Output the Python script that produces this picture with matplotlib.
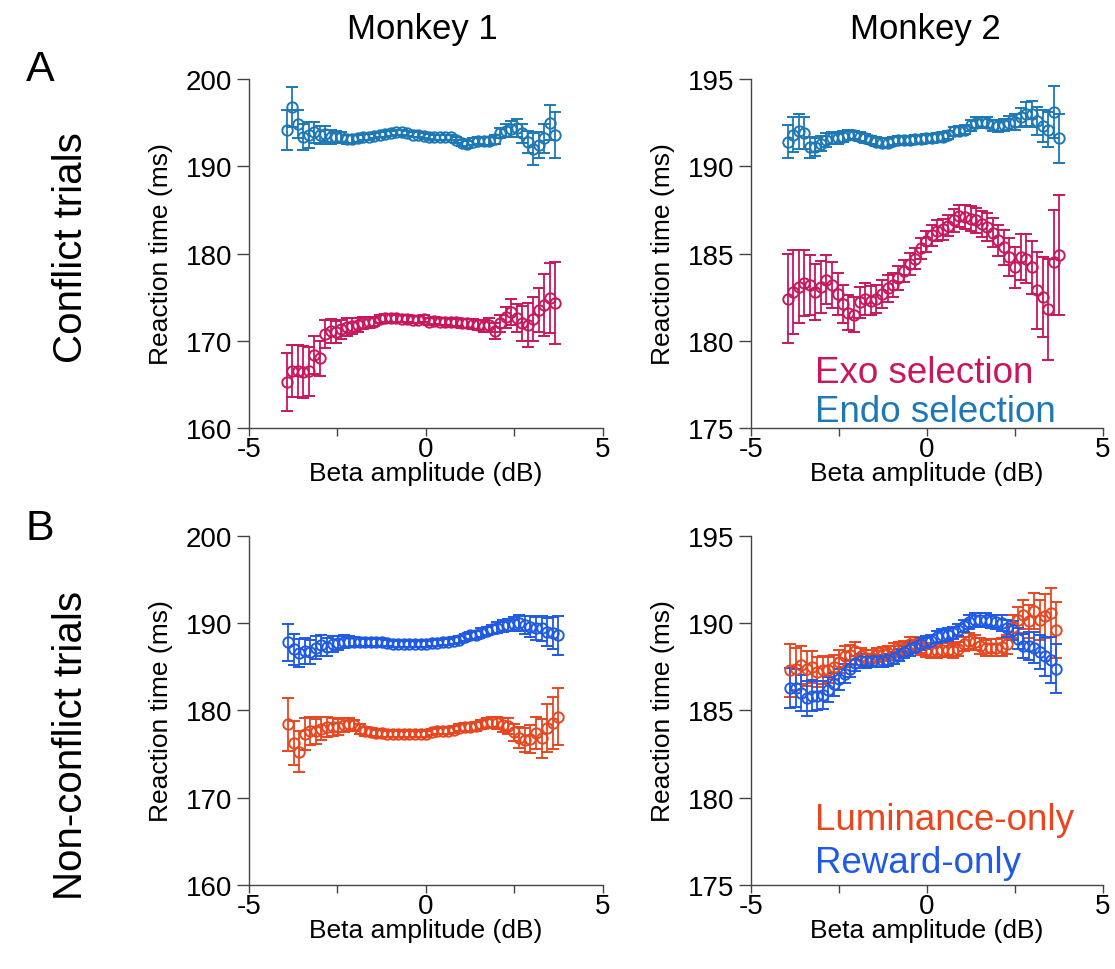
import numpy as np
import matplotlib.pyplot as plt

plt.rcParams['font.family'] = ['Liberation Sans', 'DejaVu Sans']

# ---- beta amplitude bins (dB) ----
x_m1_conf = [-3.93, -3.78, -3.62, -3.47, -3.31, -3.16, -3.00, -2.85, -2.69, -2.54,
             -2.39, -2.23, -2.08, -1.92, -1.77, -1.61, -1.46, -1.30, -1.15, -1.00,
             -0.84, -0.69, -0.53, -0.38, -0.22, -0.07, 0.09, 0.24, 0.40, 0.55,
             0.70, 0.86, 1.01, 1.17, 1.32, 1.48, 1.63, 1.79, 1.94, 2.09,
             2.25, 2.40, 2.56, 2.71, 2.87, 3.02, 3.18, 3.33, 3.49, 3.64]
x_m2_conf = [-3.96, -3.80, -3.64, -3.49, -3.33, -3.17, -3.01, -2.86, -2.70, -2.54,
             -2.38, -2.23, -2.07, -1.91, -1.75, -1.60, -1.44, -1.28, -1.12, -0.97,
             -0.81, -0.65, -0.49, -0.34, -0.18, -0.02, 0.14, 0.29, 0.45, 0.61,
             0.77, 0.92, 1.08, 1.24, 1.40, 1.55, 1.71, 1.87, 2.03, 2.18,
             2.34, 2.50, 2.66, 2.81, 2.97, 3.13, 3.29, 3.44, 3.60, 3.76]
x_m1_nonconf = [-3.89, -3.73, -3.58, -3.42, -3.27, -3.11, -2.96, -2.80, -2.64, -2.49,
                -2.33, -2.18, -2.02, -1.87, -1.71, -1.56, -1.40, -1.24, -1.09, -0.93,
                -0.78, -0.62, -0.47, -0.31, -0.15, 0.00, 0.16, 0.31, 0.47, 0.62,
                0.78, 0.93, 1.09, 1.25, 1.40, 1.56, 1.71, 1.87, 2.02, 2.18,
                2.33, 2.49, 2.64, 2.80, 2.95, 3.11, 3.27, 3.42, 3.58, 3.74]
x_m2_nonconf = [-3.88, -3.73, -3.57, -3.42, -3.26, -3.11, -2.96, -2.80, -2.65, -2.49,
                -2.34, -2.19, -2.03, -1.88, -1.72, -1.57, -1.42, -1.26, -1.11, -0.95,
                -0.80, -0.65, -0.49, -0.34, -0.18, -0.03, 0.12, 0.28, 0.43, 0.59,
                0.74, 0.89, 1.05, 1.20, 1.36, 1.51, 1.67, 1.82, 1.97, 2.13,
                2.28, 2.44, 2.59, 2.74, 2.90, 3.05, 3.21, 3.36, 3.51, 3.66]

# ---- conflict trials, monkey 1 ----
exo_m1 = [165.3, 166.5, 166.5, 166.4, 166.5, 168.4, 168.0, 170.8, 171.1, 171.0,
          171.3, 171.6, 171.7, 171.8, 172.0, 172.1, 172.2, 172.5, 172.6, 172.6,
          172.6, 172.5, 172.5, 172.4, 172.4, 172.5, 172.2, 172.3, 172.2, 172.2,
          172.1, 172.2, 172.0, 172.0, 171.9, 171.8, 171.7, 171.8, 171.1, 172.0,
          172.7, 173.3, 172.6, 172.0, 171.8, 172.5, 173.5, 174.1, 174.9, 174.3]
exo_m1_err = [3.3, 3.0, 3.0, 3.0, 2.8, 2.2, 2.0, 1.6, 1.4, 1.3,
              1.1, 1.0, 0.9, 0.8, 0.7, 0.6, 0.55, 0.5, 0.45, 0.45,
              0.4, 0.4, 0.4, 0.4, 0.4, 0.4, 0.4, 0.4, 0.4, 0.4,
              0.45, 0.45, 0.5, 0.5, 0.55, 0.6, 0.7, 0.8, 0.9, 1.0,
              1.2, 1.5, 1.6, 2.0, 2.5, 2.5, 2.5, 3.5, 4.0, 4.7]
endo_m1 = [194.2, 196.8, 194.8, 193.4, 193.6, 193.9, 193.6, 193.7, 193.4, 193.4,
           193.3, 193.1, 193.1, 193.2, 193.4, 193.4, 193.5, 193.6, 193.7, 193.8,
           193.9, 193.9, 193.8, 193.6, 193.6, 193.5, 193.4, 193.3, 193.3, 193.3,
           193.3, 193.0, 192.7, 192.5, 192.8, 192.9, 192.9, 192.9, 193.1, 193.8,
           194.1, 194.3, 194.4, 193.8, 192.8, 192.0, 192.4, 193.2, 195.0, 193.6]
endo_m1_err = [2.3, 2.3, 1.6, 1.5, 1.5, 1.2, 1.0, 0.9, 0.8, 0.7,
               0.6, 0.5, 0.45, 0.4, 0.35, 0.35, 0.3, 0.3, 0.3, 0.3,
               0.3, 0.3, 0.3, 0.3, 0.3, 0.3, 0.3, 0.3, 0.3, 0.3,
               0.3, 0.3, 0.35, 0.35, 0.4, 0.4, 0.45, 0.45, 0.5, 0.6,
               0.7, 0.9, 1.0, 1.1, 1.3, 1.8, 1.5, 1.7, 2.0, 2.6]

# ---- conflict trials, monkey 2 ----
exo_m2 = [182.4, 182.8, 183.1, 183.3, 183.2, 182.8, 183.1, 183.5, 183.2, 182.7,
          182.1, 181.6, 181.5, 182.2, 182.4, 182.3, 182.4, 182.7, 183.0, 183.2,
          183.6, 184.0, 184.4, 184.7, 185.3, 185.7, 186.05, 186.3, 186.4, 186.6,
          186.9, 187.15, 187.1, 187.0, 186.9, 186.7, 186.5, 186.2, 185.75, 185.35,
          184.8, 184.2, 184.8, 184.7, 184.2, 182.9, 182.5, 181.8, 184.5, 184.9]
exo_m2_err = [2.55, 2.4, 2.1, 1.9, 1.7, 1.6, 1.5, 1.4, 1.3, 1.2,
              1.1, 1.0, 1.0, 0.9, 0.9, 0.85, 0.8, 0.8, 0.75, 0.7,
              0.7, 0.65, 0.65, 0.6, 0.6, 0.6, 0.6, 0.6, 0.6, 0.6,
              0.65, 0.65, 0.7, 0.7, 0.7, 0.75, 0.8, 0.85, 0.9, 1.0,
              1.1, 1.2, 1.3, 1.4, 1.5, 2.2, 2.3, 2.9, 3.0, 3.45]
endo_m2 = [191.4, 191.8, 192.0, 191.9, 191.1, 191.1, 191.3, 191.5, 191.6, 191.6,
           191.7, 191.8, 191.8, 191.7, 191.6, 191.5, 191.4, 191.35, 191.35, 191.45,
           191.5, 191.5, 191.5, 191.55, 191.55, 191.6, 191.6, 191.65, 191.7, 191.8,
           192.0, 192.05, 192.1, 192.35, 192.5, 192.55, 192.5, 192.35, 192.3, 192.35,
           192.5, 192.55, 192.8, 193.0, 193.0, 192.6, 192.3, 192.1, 193.1, 191.6]
endo_m2_err = [0.95, 1.0, 1.0, 0.9, 0.6, 0.5, 0.45, 0.4, 0.35, 0.3,
               0.3, 0.3, 0.25, 0.25, 0.25, 0.25, 0.25, 0.25, 0.25, 0.25,
               0.25, 0.25, 0.25, 0.25, 0.25, 0.25, 0.25, 0.25, 0.25, 0.25,
               0.25, 0.25, 0.25, 0.3, 0.3, 0.3, 0.3, 0.3, 0.35, 0.35,
               0.4, 0.45, 0.55, 0.7, 0.75, 0.8, 0.9, 1.0, 1.5, 1.4]

# ---- non-conflict trials, monkey 1 ----
lum_m1 = [178.4, 176.3, 175.3, 177.3, 177.7, 177.6, 177.9, 178.1, 178.1, 178.1,
          178.3, 178.4, 178.3, 177.9, 177.6, 177.5, 177.4, 177.4, 177.3, 177.3,
          177.3, 177.3, 177.3, 177.3, 177.3, 177.3, 177.5, 177.6, 177.6, 177.7,
          177.8, 178.0, 178.1, 178.1, 178.2, 178.4, 178.6, 178.7, 178.6, 178.3,
          178.2, 177.5, 176.9, 176.6, 176.7, 177.4, 176.8, 178.0, 178.6, 179.3]
lum_m1_err = [3.0, 2.5, 2.3, 1.8, 1.6, 1.4, 1.3, 1.1, 1.0, 0.9,
              0.8, 0.7, 0.6, 0.55, 0.5, 0.45, 0.4, 0.4, 0.35, 0.35,
              0.35, 0.35, 0.35, 0.35, 0.35, 0.35, 0.35, 0.35, 0.35, 0.4,
              0.4, 0.4, 0.45, 0.45, 0.5, 0.5, 0.55, 0.6, 0.7, 0.8,
              0.9, 1.0, 1.2, 1.4, 1.6, 1.8, 2.2, 2.7, 3.0, 3.3]
rew_m1 = [187.8, 187.0, 186.6, 186.8, 186.7, 187.2, 187.5, 187.3, 187.6, 187.7,
          187.9, 187.9, 187.9, 187.8, 187.8, 187.8, 187.8, 187.8, 187.7, 187.6,
          187.6, 187.6, 187.6, 187.6, 187.6, 187.6, 187.7, 187.7, 187.8, 187.9,
          188.0, 188.1, 188.4, 188.6, 188.7, 188.9, 189.1, 189.3, 189.5, 189.7,
          189.8, 189.9, 190.0, 189.8, 189.6, 189.4, 189.4, 189.0, 188.9, 188.6]
rew_m1_err = [2.1, 1.8, 1.6, 1.5, 1.4, 1.3, 1.2, 1.0, 0.9, 0.8,
              0.7, 0.6, 0.55, 0.5, 0.45, 0.4, 0.4, 0.4, 0.35, 0.35,
              0.35, 0.35, 0.35, 0.35, 0.35, 0.35, 0.35, 0.35, 0.35, 0.35,
              0.4, 0.4, 0.4, 0.45, 0.45, 0.5, 0.5, 0.55, 0.6, 0.65,
              0.7, 0.8, 0.9, 1.0, 1.2, 1.3, 1.4, 1.6, 1.8, 2.2]

# ---- non-conflict trials, monkey 2 ----
lum_m2 = [187.3, 187.4, 187.6, 187.4, 187.5, 187.2, 187.3, 187.3, 187.5, 187.8,
          188.1, 188.2, 188.4, 188.1, 188.0, 188.0, 188.2, 188.25, 188.3, 188.45,
          188.55, 188.6, 188.8, 188.8, 188.6, 188.45, 188.4, 188.4, 188.45, 188.45,
          188.4, 188.5, 188.8, 189.0, 188.9, 188.7, 188.6, 188.6, 188.6, 188.65,
          188.8, 189.8, 190.2, 190.5, 190.1, 190.7, 190.2, 190.4, 190.6, 189.6]
lum_m2_err = [1.5, 1.2, 1.1, 1.0, 0.9, 0.85, 0.8, 0.75, 0.7, 0.65,
              0.6, 0.55, 0.5, 0.5, 0.45, 0.45, 0.4, 0.4, 0.4, 0.4,
              0.4, 0.4, 0.4, 0.4, 0.4, 0.4, 0.4, 0.4, 0.4, 0.4,
              0.4, 0.4, 0.4, 0.45, 0.45, 0.45, 0.45, 0.5, 0.5, 0.5,
              0.55, 0.65, 0.75, 0.85, 0.95, 1.05, 1.15, 1.25, 1.4, 1.6]
rew_m2 = [186.3, 186.3, 186.0, 185.7, 185.85, 185.85, 185.9, 186.2, 186.5, 186.8,
          187.1, 187.4, 187.7, 187.85, 187.85, 187.85, 187.85, 187.85, 187.9, 188.0,
          188.2, 188.35, 188.5, 188.65, 188.8, 188.9, 189.0, 189.2, 189.3, 189.35,
          189.45, 189.6, 189.85, 190.05, 190.2, 190.2, 190.2, 190.1, 190.05, 190.0,
          189.7, 189.6, 189.1, 188.7, 188.7, 188.6, 188.35, 188.1, 187.9, 187.4]
rew_m2_err = [1.15, 1.1, 1.05, 1.0, 0.9, 0.85, 0.8, 0.7, 0.65, 0.6,
              0.55, 0.5, 0.45, 0.4, 0.4, 0.35, 0.35, 0.35, 0.35, 0.35,
              0.35, 0.35, 0.35, 0.35, 0.35, 0.35, 0.35, 0.35, 0.35, 0.35,
              0.35, 0.35, 0.35, 0.4, 0.4, 0.4, 0.4, 0.4, 0.4, 0.45,
              0.5, 0.55, 0.6, 0.7, 0.8, 0.9, 1.0, 1.1, 1.3, 1.4]

# colours
c_exo = '#c8175d'
c_endo = '#1d78b6'
c_lum = '#e8461f'
c_rew = '#1f5ae6'


def draw_series(ax, x, y, err, color):
    ax.errorbar(x, y, yerr=err, fmt='o', color=color, mfc='none', mec=color,
                ms=7.5, mew=1.4, elinewidth=1.3, capsize=4.5, capthick=1.3)


def style_axis(ax, ylim, yticks):
    ax.set_xlim(-5, 5)
    ax.set_ylim(*ylim)
    ax.set_xticks([-5, -2.5, 0, 2.5, 5])
    ax.set_xticklabels(['-5', '', '0', '', '5'])
    ax.set_yticks(yticks)
    ax.set_yticklabels([str(t) for t in yticks])
    for side in ['top', 'right']:
        ax.spines[side].set_visible(False)
    for side in ['left', 'bottom']:
        ax.spines[side].set_color('#444444')
        ax.spines[side].set_linewidth(1.0)
    ax.tick_params(axis='both', labelsize=20, color='#444444', width=1.0)
    ax.tick_params(axis='x', length=6, pad=0)
    ax.tick_params(axis='y', length=9, pad=3)
    ax.set_xlabel('Beta amplitude (dB)', fontsize=19, labelpad=-1)
    ax.set_ylabel('Reaction time (ms)', fontsize=19, labelpad=9)


fig = plt.figure(figsize=(11.15, 9.7), dpi=100)

ax1 = fig.add_axes([0.2233, 0.5577, 0.3175, 0.3598])
ax2 = fig.add_axes([0.6735, 0.5577, 0.3157, 0.3598])
ax3 = fig.add_axes([0.2233, 0.0866, 0.3175, 0.3598])
ax4 = fig.add_axes([0.6735, 0.0866, 0.3157, 0.3598])

draw_series(ax1, x_m1_conf, endo_m1, endo_m1_err, c_endo)
draw_series(ax1, x_m1_conf, exo_m1, exo_m1_err, c_exo)
style_axis(ax1, (160, 200), [160, 170, 180, 190, 200])

draw_series(ax2, x_m2_conf, endo_m2, endo_m2_err, c_endo)
draw_series(ax2, x_m2_conf, exo_m2, exo_m2_err, c_exo)
style_axis(ax2, (175, 195), [175, 180, 185, 190, 195])
ax2.text(0.182, 0.132, 'Exo selection', color=c_exo, fontsize=26.5,
         transform=ax2.transAxes, va='baseline')
ax2.text(0.182, 0.020, 'Endo selection', color=c_endo, fontsize=26.5,
         transform=ax2.transAxes, va='baseline')

draw_series(ax3, x_m1_nonconf, lum_m1, lum_m1_err, c_lum)
draw_series(ax3, x_m1_nonconf, rew_m1, rew_m1_err, c_rew)
style_axis(ax3, (160, 200), [160, 170, 180, 190, 200])

draw_series(ax4, x_m2_nonconf, lum_m2, lum_m2_err, c_lum)
draw_series(ax4, x_m2_nonconf, rew_m2, rew_m2_err, c_rew)
style_axis(ax4, (175, 195), [175, 180, 185, 190, 195])
ax4.text(0.182, 0.160, 'Luminance-only', color=c_lum, fontsize=26.5,
         transform=ax4.transAxes, va='baseline')
ax4.text(0.182, 0.037, 'Reward-only', color=c_rew, fontsize=26.5,
         transform=ax4.transAxes, va='baseline')

# column and row headings
fig.text(0.379, 0.970, 'Monkey 1', fontsize=25, ha='center', va='center')
fig.text(0.830, 0.970, 'Monkey 2', fontsize=25, ha='center', va='center')
fig.text(0.064, 0.745, 'Conflict trials', fontsize=29, rotation=90,
         ha='center', va='center')
fig.text(0.064, 0.232, 'Non-conflict trials', fontsize=29, rotation=90,
         ha='center', va='center')
fig.text(0.036, 0.928, 'A', fontsize=31, ha='center', va='center')
fig.text(0.036, 0.455, 'B', fontsize=31, ha='center', va='center')

fig.savefig('out.png', dpi=100)
